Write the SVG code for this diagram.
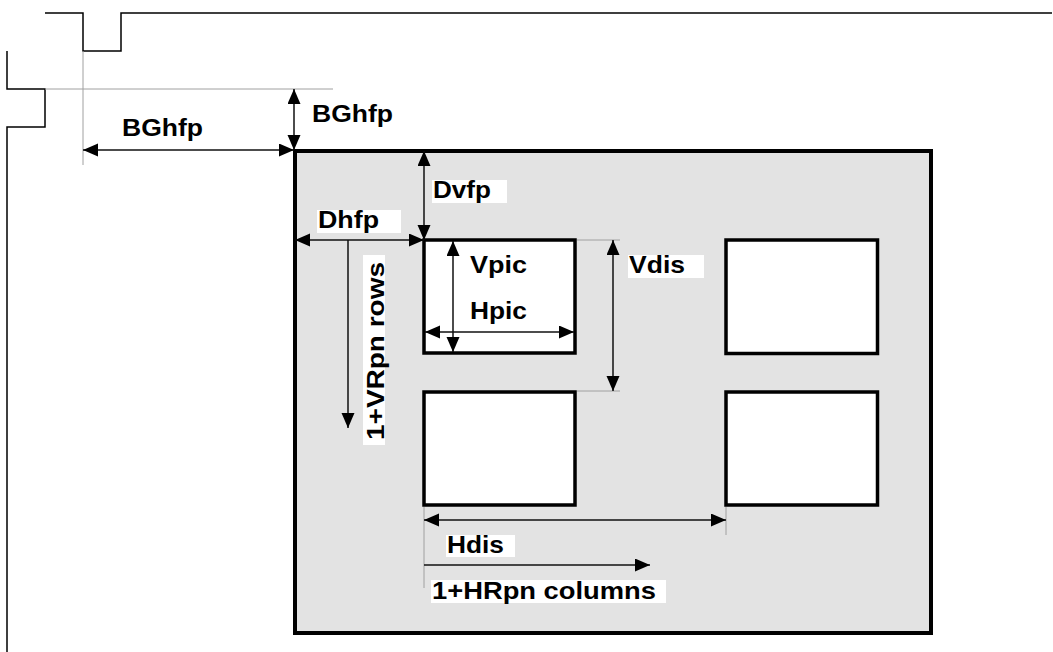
<svg xmlns="http://www.w3.org/2000/svg" width="1053" height="652" viewBox="0 0 1053 652">
<defs>
<style>
.wave{fill:none;stroke:#000;stroke-width:1.5}
.ext{fill:none;stroke:#a0a0a0;stroke-width:1}
.dim{fill:none;stroke:#111;stroke-width:1.5;marker-start:url(#ah);marker-end:url(#ah)}
.one{fill:none;stroke:#111;stroke-width:1.5;marker-end:url(#ah)}
.pic{fill:#fff;stroke:#000;stroke-width:3.5}
.lbl{font-family:"Liberation Sans",Arial,sans-serif;font-weight:bold;font-size:24px;fill:#000}
.bg{fill:#fff}
</style>
<marker id="ah" markerUnits="userSpaceOnUse" markerWidth="16" markerHeight="14" refX="15" refY="6.5" orient="auto-start-reverse" viewBox="0 0 16 14">
<path d="M0,0 L15,6.5 L0,13 z" fill="#000"/>
</marker>
</defs>
<rect width="1053" height="652" fill="#fff"/>
<g id="waveforms">
<path class="wave" d="M45,13 H83 V51 H121 V13 H1052"/>
<path class="wave" d="M7,51 V89 H45 V127 H7 V652"/>
</g>
<g id="display">
<rect x="295" y="151" width="636" height="482" fill="#e3e3e3" stroke="#000" stroke-width="4"/>
</g>
<g id="pic1"><rect class="pic" x="424" y="240" width="151" height="113"/></g>
<g id="pic2"><rect class="pic" x="726" y="240" width="151.5" height="113.5"/></g>
<g id="pic3"><rect class="pic" x="424" y="392" width="151" height="113"/></g>
<g id="pic4"><rect class="pic" x="726" y="392" width="151.5" height="113"/></g>
<g id="connectors">
<path class="ext" d="M45,89 H333"/>
<path class="ext" d="M83,51 V165"/>
<path class="ext" d="M577,240 H620 M577,391 H620"/>
<path class="ext" d="M424,507 V588 M726,507 V535"/>
<path class="dim" d="M83,150 H294"/>
<path class="dim" d="M294,89 V150"/>
<path class="dim" d="M424,151 V240"/>
<path class="dim" d="M295,240 H424"/>
<path class="dim" d="M453,241 V352"/>
<path class="dim" d="M425,332 H574"/>
<path class="dim" d="M613,240 V391"/>
<path class="dim" d="M424,520 H726"/>
<path class="one" d="M424,565 H650"/>
<path class="one" d="M348,240 V428"/>
</g>
<g id="labels">
<text class="lbl" x="122" y="136" textLength="81" lengthAdjust="spacingAndGlyphs">BGhfp</text>
<text class="lbl" x="312" y="122" textLength="81" lengthAdjust="spacingAndGlyphs">BGhfp</text>
<rect class="bg" x="432" y="180" width="75" height="23"/>
<text class="lbl" x="433" y="198" textLength="58" lengthAdjust="spacingAndGlyphs">Dvfp</text>
<rect class="bg" x="317" y="210" width="84" height="23"/>
<text class="lbl" x="318" y="228" textLength="61" lengthAdjust="spacingAndGlyphs">Dhfp</text>
<text class="lbl" x="470" y="273" textLength="57" lengthAdjust="spacingAndGlyphs">Vpic</text>
<text class="lbl" x="470" y="319" textLength="57" lengthAdjust="spacingAndGlyphs">Hpic</text>
<rect class="bg" x="628" y="255" width="76" height="23"/>
<text class="lbl" x="629" y="273" textLength="56" lengthAdjust="spacingAndGlyphs">Vdis</text>
<rect class="bg" x="446" y="535" width="69" height="22"/>
<text class="lbl" x="447" y="553" textLength="57" lengthAdjust="spacingAndGlyphs">Hdis</text>
<rect class="bg" x="431" y="580" width="235" height="23"/>
<text class="lbl" x="432" y="599" textLength="224" lengthAdjust="spacingAndGlyphs">1+HRpn columns</text>
<rect class="bg" x="363" y="255" width="22" height="190"/>
<text class="lbl" transform="translate(384,440) rotate(-90)" x="0" y="0" textLength="178" lengthAdjust="spacingAndGlyphs">1+VRpn rows</text>
</g>
</svg>
